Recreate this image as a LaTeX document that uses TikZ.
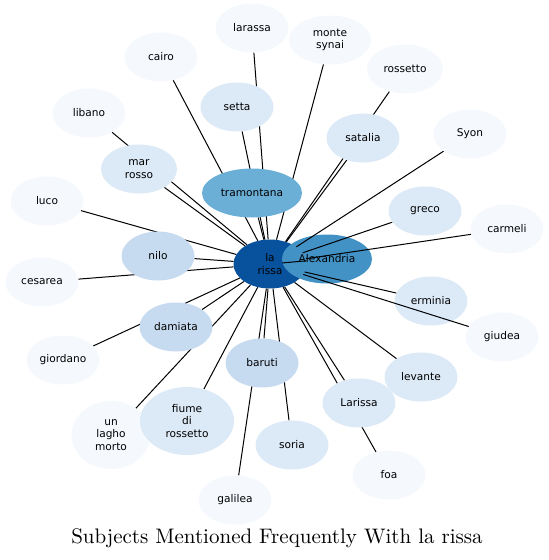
\documentclass[tikz,border=0pt]{standalone}
\usepackage{fontspec}
\newfontfamily\labelfont{DejaVu Sans}
\newfontfamily\titlefont{lmroman10-regular.otf}
\usetikzlibrary{shapes,positioning,backgrounds}

\definecolor{hubblue}{HTML}{08519C}
\definecolor{alexblue}{HTML}{4292C6}
\definecolor{tramblue}{HTML}{6BAED6}
\definecolor{rimblue}{HTML}{C6DBEF}
\definecolor{paleblue}{HTML}{DCE9F6}
\definecolor{faintblue}{HTML}{F5F9FE}

\pgfdeclarelayer{hub}
\pgfdeclarelayer{links}
\pgfsetlayers{hub,links,main}

\begin{document}
\begin{tikzpicture}[
        x=1pt, y=-1pt,
        term/.style={ellipse, minimum width=73pt, minimum height=49pt, inner sep=1pt, align=center, font=\labelfont\fontsize{10.6}{12.3}\selectfont},
        faintnode/.style={term, fill=faintblue},
        palenode/.style={term, fill=paleblue},
        rimnode/.style={term, fill=rimblue},
        link/.style={line width=1pt, black}
    ]
        \useasboundingbox (0,0) rectangle (549,560);

        % these few sit under the links
        \begin{pgfonlayer}{hub}
        \node[term, fill=hubblue] (rissa) at (270,264) {la\\rissa};
        \node[term, fill=alexblue, minimum width=90pt] (alexandria) at (327,259) {Alexandria};
        \node[palenode] (erminia) at (431,301) {erminia};
        \end{pgfonlayer}

        \node[term, fill=tramblue, minimum width=100pt] (tramontana) at (252,193) {tramontana};

        \node[faintnode] (cairo) at (161,57) {cairo};
        \node[faintnode] (larassa) at (252,28) {larassa};
        \node[faintnode, minimum width=82pt] (monte) at (330,40) {monte\\synai};
        \node[faintnode, minimum width=76pt] (rossetto) at (405,69) {rossetto};
        \node[faintnode] (syon) at (470,134) {Syon};
        \node[faintnode] (libano) at (89,113) {libano};
        \node[faintnode] (carmeli) at (507,229) {carmeli};
        \node[faintnode] (luco) at (47,201) {luco};
        \node[faintnode] (cesarea) at (42,282) {cesarea};
        \node[faintnode] (giudea) at (502,337) {giudea};
        \node[faintnode] (giordano) at (63,360) {giordano};
        \node[faintnode, minimum width=79pt, minimum height=68pt] (lagho) at (111,435) {un\\lagho\\morto};
        \node[faintnode] (foa) at (389,475) {foa};
        \node[faintnode] (galilea) at (235,500) {galilea};

        \node[palenode] (setta) at (237,107) {setta};
        \node[palenode] (satalia) at (363,138) {satalia};
        \node[palenode, minimum width=76pt] (marrosso) at (139,169) {mar\\rosso};
        \node[palenode] (greco) at (425,211) {greco};
        \node[palenode] (levante) at (421,377) {levante};
        \node[palenode] (larissa) at (359,403) {Larissa};
        \node[palenode] (soria) at (292,445) {soria};
        \node[palenode, minimum width=94pt, minimum height=68pt] (fiume) at (187,421) {fiume\\di\\rossetto};

        \node[rimnode] (nilo) at (158,256) {nilo};
        \node[rimnode] (damiata) at (176,327) {damiata};
        \node[rimnode] (baruti) at (262,363) {baruti};

        \node[font=\titlefont\fontsize{21}{23}\selectfont] (title) at (277,538) {Subjects Mentioned Frequently With la rissa};

        \begin{pgfonlayer}{links}
        \draw[link] (rissa) -- (cairo);
        \draw[link] (rissa) -- (larassa);
        \draw[link] (rissa) -- (monte);
        \draw[link] (rissa) -- (rossetto);
        \draw[link] (rissa) -- (syon);
        \draw[link] (rissa) -- (libano);
        \draw[link] (rissa) -- (carmeli);
        \draw[link] (rissa) -- (luco);
        \draw[link] (rissa) -- (cesarea);
        \draw[link] (rissa) -- (giudea);
        \draw[link] (rissa) -- (giordano);
        \draw[link] (rissa) -- (lagho);
        \draw[link] (rissa) -- (foa);
        \draw[link] (rissa) -- (galilea);
        \draw[link] (rissa) -- (setta);
        \draw[link] (rissa) -- (satalia);
        \draw[link] (rissa) -- (marrosso);
        \draw[link] (rissa) -- (greco);
        \draw[link] (rissa) -- (erminia);
        \draw[link] (rissa) -- (levante);
        \draw[link] (rissa) -- (larissa);
        \draw[link] (rissa) -- (soria);
        \draw[link] (rissa) -- (fiume);
        \draw[link] (rissa) -- (nilo);
        \draw[link] (rissa) -- (damiata);
        \draw[link] (rissa) -- (baruti);
        \draw[link] (rissa) -- (tramontana);
        \draw[link] (rissa) -- (alexandria);
        \end{pgfonlayer}
    \end{tikzpicture}
\end{document}
